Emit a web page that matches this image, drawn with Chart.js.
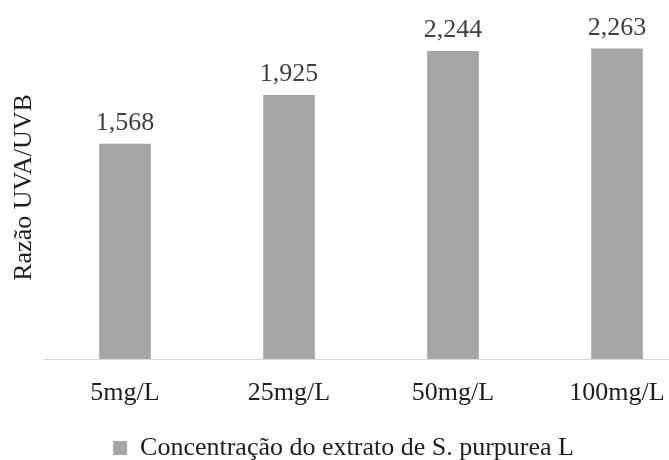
<!DOCTYPE html>
<html>
<head>
<meta charset="utf-8">
<script src="https://cdn.jsdelivr.net/npm/chart.js@4/dist/chart.umd.min.js"></script>
<style>
  html, body { margin: 0; padding: 0; background: #ffffff; overflow: hidden; width: 669px; height: 460px; }
  canvas { display: block; }
</style>
</head>
<body>
<canvas id="c" width="700" height="460"></canvas>
<script>
const categories = ['5mg/L', '25mg/L', '50mg/L', '100mg/L'];
const values = [1.568, 1.925, 2.244, 2.263];
const seriesName = 'Concentração do extrato de S. purpurea L';
const yTitle = 'Razão UVA/UVB';

const FONT = "'Liberation Serif', 'Times New Roman', serif";
const TEXT = '#1e1e1e';
const LABEL = '#404040';

const valueLabels = {
  id: 'valueLabels',
  afterDatasetsDraw(chart) {
    const ctx = chart.ctx;
    const meta = chart.getDatasetMeta(0);
    ctx.save();
    ctx.font = '26px ' + FONT;
    ctx.fillStyle = LABEL;
    ctx.textAlign = 'center';
    ctx.textBaseline = 'alphabetic';
    meta.data.forEach((bar, i) => {
      const v = chart.data.datasets[0].data[i];
      ctx.fillText(v.toFixed(3).replace('.', ','), bar.x, bar.y - 14);
    });
    ctx.restore();
  }
};

new Chart(document.getElementById('c'), {
  type: 'bar',
  data: {
    labels: categories,
    datasets: [{
      label: seriesName,
      data: values,
      backgroundColor: '#A5A5A5',
      borderWidth: 0,
      categoryPercentage: 1,
      barPercentage: 0.315
    }]
  },
  options: {
    responsive: false,
    animation: false,
    devicePixelRatio: 1,
    layout: { padding: { top: 16, left: -12, right: 1, bottom: -11 } },
    plugins: {
      tooltip: { enabled: false },
      legend: {
        position: 'bottom',
        labels: {
          font: { family: FONT, size: 26 },
          color: TEXT,
          boxWidth: 14,
          boxHeight: 14,
          padding: 0
        }
      }
    },
    scales: {
      x: {
        grid: { display: false, drawTicks: false },
        border: { display: true, color: '#D9D9D9', width: 1 },
        ticks: { font: { family: FONT, size: 26 }, color: TEXT, padding: 19, maxRotation: 0 },
        afterFit(scale) { scale.height = 76; }
      },
      y: {
        min: 0,
        max: 2.5,
        grid: { display: false, drawTicks: false },
        border: { display: false },
        ticks: { display: false },
        title: {
          display: true,
          text: yTitle,
          font: { family: FONT, size: 26 },
          color: TEXT,
          padding: { top: 21, bottom: 0 }
        },
        afterFit(scale) { scale.width = 55; }
      }
    }
  },
  plugins: [valueLabels]
});
</script>
</body>
</html>
